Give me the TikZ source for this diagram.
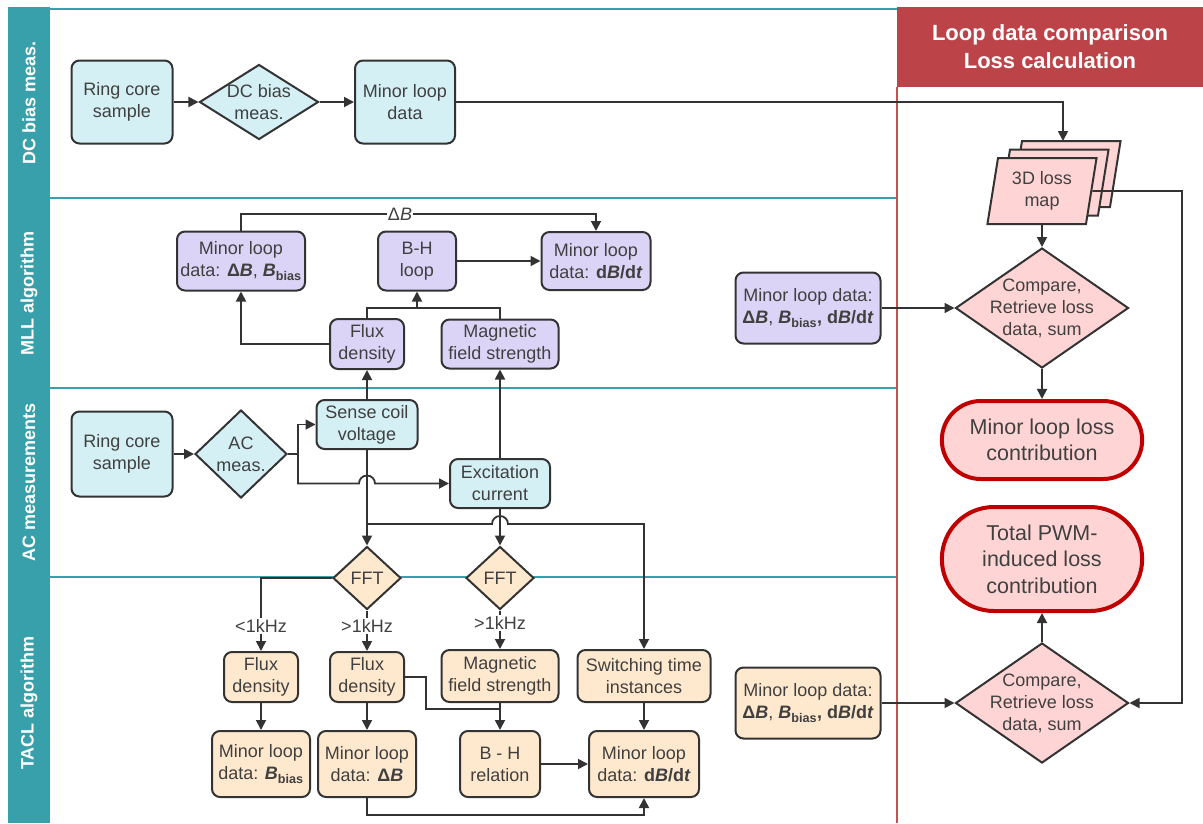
\documentclass[tikz,border=0pt]{standalone}
\usepackage{fontspec}
\setmainfont{Liberation Sans}
\usetikzlibrary{arrows.meta,shapes.geometric,shapes.misc,shadows}
\definecolor{ink}{RGB}{64,64,64}
\definecolor{edge}{RGB}{51,51,51}
\definecolor{acfill}{RGB}{212,240,245}
\definecolor{mllfill}{RGB}{220,212,246}
\definecolor{taclfill}{RGB}{255,233,206}
\definecolor{lossfill}{RGB}{255,212,212}
\definecolor{lane}{RGB}{56,160,170}
\definecolor{headred}{RGB}{188,68,72}
\definecolor{lossred}{RGB}{192,0,0}

\begin{document}
\begin{tikzpicture}[x=1pt, y=-1pt,
  txt/.style={font=\fontsize{18}{22}\selectfont, text=ink},
  box/.style={txt, draw=edge, line width=2pt, rounded corners=8pt, align=center, inner sep=1pt, fill=#1},
  sz/.style 2 args={minimum width=#1pt, minimum height=#2pt},
  dia/.style={diamond, draw=edge, line width=2pt, inner sep=0pt, fill=#1},
  dtext/.style={txt, align=center, inner sep=0pt},
  ends/.style={rounded rectangle, draw=lossred, line width=4pt, fill=lossfill, align=center, text=ink, font=\fontsize{21.5}{26.5}\selectfont},
  freq/.style={txt, inner sep=1pt},
  conn/.style={draw=edge, line width=1.8pt},
  arr/.style={conn, -{Triangle[length=10pt, width=10pt]}},
  lanelbl/.style={text=white, font=\bfseries\fontsize{18}{22}\selectfont, rotate=90},
  laneline/.style={draw=lane, line width=2pt},
  headbox/.style={fill=headred, text=white, align=center, font=\bfseries\fontsize{22}{28}\selectfont}]
\useasboundingbox (0,0) rectangle (1203,823);
\fill[lane] (8,7) rectangle (50,823);
\draw[laneline, line width=1.5pt] (50,9) -- (897,9);
\draw[laneline] (50,198) -- (897,198);
\draw[laneline] (50,388) -- (897,388);
\draw[laneline] (50,577) -- (897,577);
\node[lanelbl] (lane1) at (29,103) {DC bias meas.};
\node[lanelbl] (lane2) at (29,293) {MLL algorithm};
\node[lanelbl] (lane3) at (29,482) {AC measurements};
\node[lanelbl] (lane4) at (29,703) {TACL algorithm};
\draw[draw={rgb,255:red,200;green,80;blue,80}, line width=2pt] (897,87) -- (897,823);
\node[headbox, sz={306}{80}] (head) at (1050,47) {Loop data comparison\\Loss calculation};

\node[box=acfill, sz={101}{83}] (ring1) at (122,102) {Ring core\\sample};
\node[dia=acfill, sz={119}{75}, label={[dtext]center:DC bias\\meas.}] (dcmeas) at (259,102) {};
\node[box=acfill, sz={100}{83}] (dcdata) at (405,102) {Minor loop\\data};

\node[box=mllfill, sz={128}{59}] (mllbias) at (241,261) {Minor loop\\data: \textbf{Δ\textit{B}}, \textbf{\textit{B}\textsubscript{bias}}};
\node[box=mllfill, sz={78}{59}] (bhloop) at (417,261) {B-H\\loop};
\node[box=mllfill, sz={109}{58}] (mlldbdt) at (596,261) {Minor loop\\data: \textbf{d\textit{B}/d\textit{t}}};
\node[box=mllfill, sz={74}{50}] (fluxM) at (367,344) {Flux\\density};
\node[box=mllfill, sz={117}{49}] (magM) at (500,344) {Magnetic\\field strength};
\node[freq, fill=white] (dlab) at (400,214) {Δ\textit{B}};
\node[box=mllfill, sz={145}{71}] (mllright) at (808,308) {Minor loop data:\\\textbf{Δ\textit{B}}, \textbf{\textit{B}\textsubscript{bias},} \textbf{d\textit{B}/d\textit{t}}};

\node[box=acfill, sz={101}{85}] (ring2) at (122,454) {Ring core\\sample};
\node[dia=acfill, sz={92}{88}, label={[dtext]center:AC\\meas.}] (acmeas) at (241,454) {};
\node[box=acfill, sz={101}{49}] (sense) at (367,424.5) {Sense coil\\voltage};
\node[box=acfill, sz={100}{49}] (excite) at (500,483.5) {Excitation\\current};
\coordinate (acsplit) at (298,454);
\coordinate (tap) at (367,524);

\node[dia=taclfill, sz={68}{63}, label={[dtext]center:FFT}] (fft1) at (367,578) {};
\node[dia=taclfill, sz={68}{63}, label={[dtext]center:FFT}] (fft2) at (500,578) {};
\node[freq] (lo1) at (261,626) {<1kHz};
\node[freq] (hi1) at (367,626) {>1kHz};
\node[freq] (hi2) at (500,623) {>1kHz};
\node[box=taclfill, sz={74}{50}] (flux1) at (261,677) {Flux\\density};
\node[box=taclfill, sz={74}{50}] (flux2) at (367,677) {Flux\\density};
\node[box=taclfill, sz={117}{52}] (magT) at (500,676) {Magnetic\\field strength};
\node[box=taclfill, sz={133}{52}] (switch) at (644,676) {Switching time\\instances};
\node[box=taclfill, sz={98}{66}] (bbias) at (261,764) {Minor loop\\data: \textbf{\textit{B}\textsubscript{bias}}};
\node[box=taclfill, sz={98}{66}] (tdB) at (367,764) {Minor loop\\data: \textbf{Δ\textit{B}}};
\node[box=taclfill, sz={80}{66}] (bhrel) at (500,764) {B - H\\relation};
\node[box=taclfill, sz={110}{66}] (tdbdt) at (644,764) {Minor loop\\data: \textbf{d\textit{B}/d\textit{t}}};
\node[box=taclfill, sz={145}{71}] (tacright) at (808,703) {Minor loop data:\\\textbf{Δ\textit{B}}, \textbf{\textit{B}\textsubscript{bias},} \textbf{d\textit{B}/d\textit{t}}};
\coordinate (bhjoin) at (417,308);
\coordinate (bhjoin2) at (500,709);

\node[trapezium, trapezium left angle=80, trapezium right angle=100, trapezium stretches=true, draw=edge, line width=2pt, fill=lossfill, sz={110}{66}, double copy shadow={shadow xshift=12pt, shadow yshift=8.5pt}, txt, align=center] (lossmap) at (1042,191) {3D loss\\map};
\coordinate (maptop) at (1063,141);
\coordinate (rail) at (1182,191);
\node[dia=lossfill, sz={173}{120}, label={[dtext]center:Compare,\\Retrieve loss\\data, sum}] (cmp1) at (1042,308) {};
\node[ends, sz={207}{78}] (minorloss) at (1042,440) {Minor loop loss\\contribution};
\node[ends, sz={207}{104}] (totalloss) at (1042,559) {Total PWM-\\induced loss\\contribution};
\node[dia=lossfill, sz={173}{120}, label={[dtext]center:Compare,\\Retrieve loss\\data, sum}] (cmp2) at (1042,703) {};

\draw[arr] (ring1) -- (dcmeas);
\draw[arr] (dcmeas) -- (dcdata);
\draw[arr] (dcdata.east) -| (maptop);
\draw[conn] (mllbias.north) |- (dlab.west);
\draw[arr] (dlab.east) -| (mlldbdt.north);
\draw[arr] (bhloop) -- (mlldbdt);
\draw[conn] (fluxM.north) |- (bhjoin) -| (magM.north);
\draw[arr] (bhjoin) -- (bhloop.south);
\draw[arr] (fluxM.west) -| (mllbias.south);
\draw[arr] (sense.north) -- (fluxM.south);
\draw[arr] (excite.north) -- (magM.south);
\draw[arr] (ring2) -- (acmeas);
\draw[conn] (acmeas.east) -- (acsplit);
\draw[arr] (acsplit) |- (sense.west);
\draw[arr] (acsplit) |- (359,483.5) arc[start angle=180, end angle=360, radius=8] -- (excite.west);
\draw[arr] (sense.south) -- (fft1.north);
\draw[arr] (excite.south) -- (fft2.north);
\draw[arr] (tap) -- (492,524) arc[start angle=180, end angle=360, radius=8] -| (switch.north);
\draw[conn] (fft1.west) -| (lo1.north);
\draw[arr] (lo1.south) -- (flux1.north);
\draw[conn] (fft1.south) -- (hi1.north);
\draw[arr] (hi1.south) -- (flux2.north);
\draw[conn] (fft2.south) -- (hi2.north);
\draw[arr] (hi2.south) -- (magT.north);
\draw[arr] (flux1) -- (bbias);
\draw[arr] (flux2) -- (tdB);
\draw[conn] (flux2.east) -- ++(21,0) |- (bhjoin2);
\draw[arr] (magT) -- (bhrel);
\draw[arr] (switch) -- (tdbdt);
\draw[arr] (bhrel) -- (tdbdt);
\draw[arr] (tdB.south) -- ++(0,17) -| (tdbdt.south);
\draw[arr] (mllright) -- (cmp1);
\draw[arr] (lossmap.south) -- (cmp1.north);
\draw[arr] (cmp1) -- (minorloss);
\draw[arr] (lossmap.east) -- (rail) |- (cmp2.east);
\draw[arr] (cmp2) -- (totalloss);
\draw[arr] (tacright) -- (cmp2);
\end{tikzpicture}
\end{document}
